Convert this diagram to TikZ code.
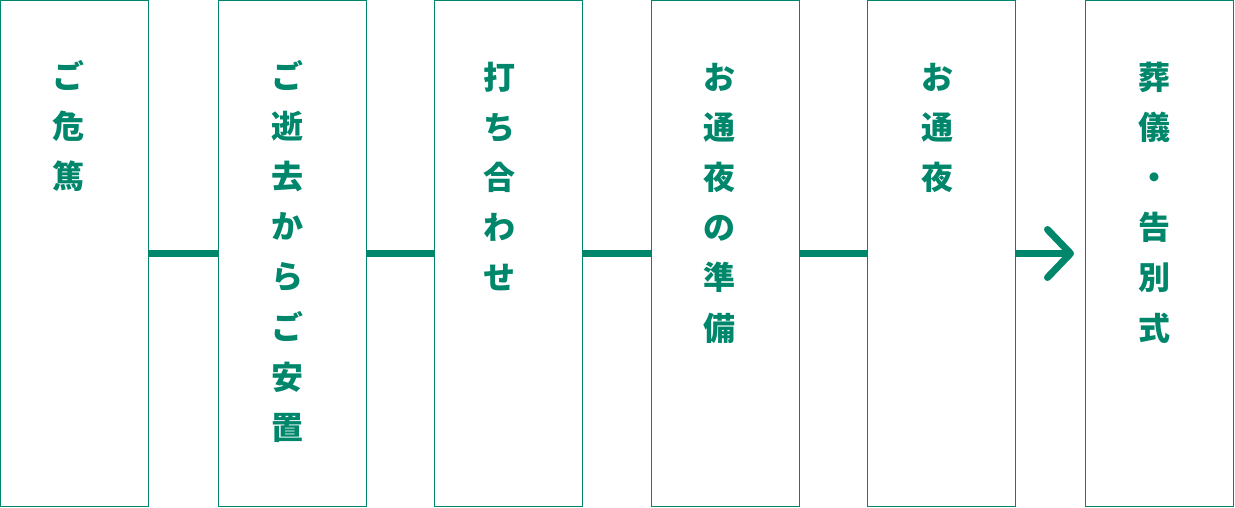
\documentclass[tikz,border=0pt]{standalone}
\usepackage{fontspec}
\newfontfamily\cjk{Noto Sans CJK JP}
\usetikzlibrary{calc}
\definecolor{teal1}{HTML}{00876B}
\begin{document}
\begin{tikzpicture}[x=1pt,y=-1pt,
  stagebox/.style={draw=teal1, line width=1.3pt, minimum width=148pt, minimum height=505.5pt, inner sep=0pt, outer sep=0pt},
  ch/.style={text=teal1, font=\cjk\bfseries\fontsize{32}{32}\selectfont, inner sep=0pt, text height=28.16pt, text depth=3.84pt},
  conn/.style={draw=teal1, line width=7pt}]
\useasboundingbox (0,0) rectangle (1235,507);
\node[stagebox] (b1) at (74.5,253.5) {};
\node[stagebox] (b2) at (292.5,253.5) {};
\node[stagebox] (b3) at (508.5,253.5) {};
\node[stagebox] (b4) at (725.5,253.5) {};
\node[stagebox] (b5) at (941.5,253.5) {};
\node[stagebox] (b6) at (1159.5,253.5) {};
\foreach \c [count=\i from 0] in {ご,危,篤} \node[ch] (ta\i) at (68.5,76+50.2*\i) {\c};
\foreach \c [count=\i from 0] in {ご,逝,去,か,ら,ご,安,置} \node[ch] (tb\i) at (287,76+50.2*\i) {\c};
\foreach \c [count=\i from 0] in {打,ち,合,わ,せ} \node[ch] (tc\i) at (499.5,77+50.2*\i) {\c};
\foreach \c [count=\i from 0] in {お,通,夜,の,準,備} \node[ch] (td\i) at (719,77+50.2*\i) {\c};
\foreach \c [count=\i from 0] in {お,通,夜} \node[ch] (te\i) at (937,77+50.2*\i) {\c};
\foreach \c [count=\i from 0] in {葬,儀,・,告,別,式} \node[ch] (tf\i) at (1154.5,77+50.2*\i) {\c};
\draw[conn] (b1.east) -- (b2.west);
\draw[conn] (b2.east) -- (b3.west);
\draw[conn] (b3.east) -- (b4.west);
\draw[conn] (b4.east) -- (b5.west);
\coordinate (tip) at ($(b6.west)+(-15,0)$);
\draw[conn] (b5.east) -- (tip);
\draw[conn, line cap=round, line join=round] ($(tip)+(-23,-24)$) -- (tip) -- ($(tip)+(-23,24)$);
\end{tikzpicture}
\end{document}
